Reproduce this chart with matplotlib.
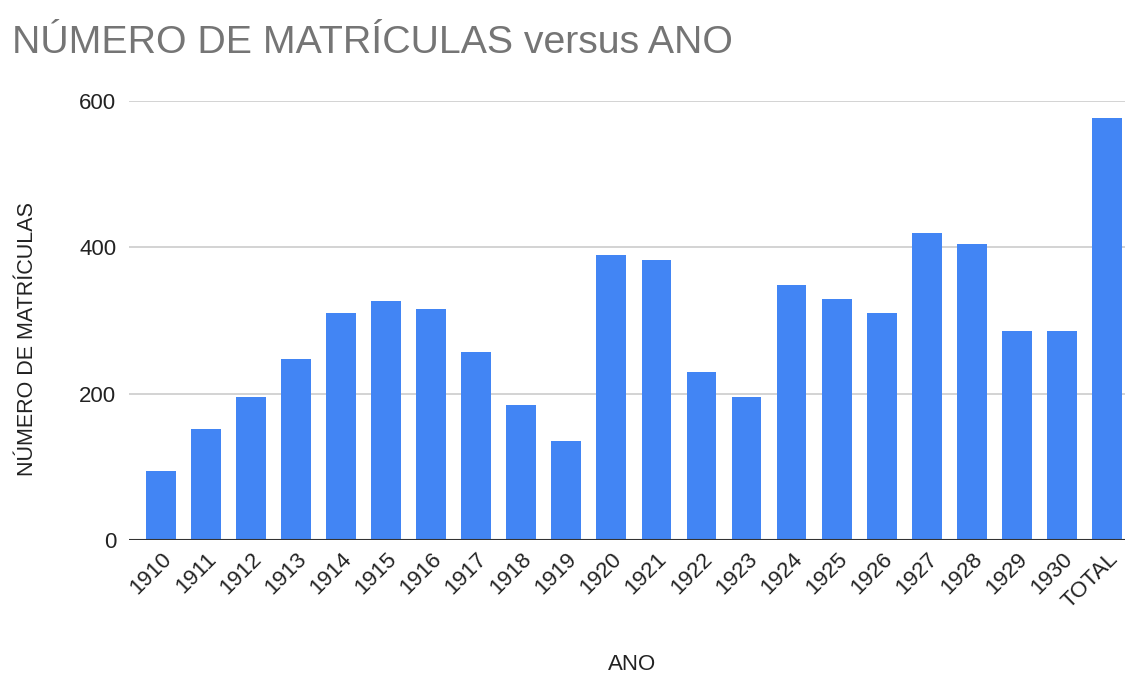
import numpy as np
import matplotlib.pyplot as plt

plt.rcParams['font.family'] = ['Liberation Sans', 'DejaVu Sans']

anos = ['1910', '1911', '1912', '1913', '1914', '1915', '1916', '1917', '1918', '1919',
        '1920', '1921', '1922', '1923', '1924', '1925', '1926', '1927', '1928', '1929',
        '1930', 'TOTAL']
matriculas = [94, 151, 195, 247, 310, 326, 315, 257, 184, 135,
              389, 383, 230, 195, 348, 329, 310, 419, 405, 285,
              285, 577]

fig = plt.figure(figsize=(11.29, 6.77), dpi=100)
ax = fig.add_axes([0.114, 0.2024, 0.8825, 0.6485])

x = np.arange(len(anos))
ax.bar(x, matriculas, width=0.66, color='#4285f4', zorder=3)

ax.set_xlim(-0.71, len(anos) - 0.6)
ax.set_ylim(0, 600)
ax.set_yticks([0, 200, 400, 600])
ax.yaxis.grid(True, color='#cccccc', linewidth=1.2, zorder=0)
ax.axhline(0, color='#333333', linewidth=1.5, zorder=4)

for s in ax.spines.values():
    s.set_visible(False)
ax.tick_params(axis='both', length=0, labelsize=16, colors='#222222')
ax.tick_params(axis='y', pad=9)
ax.tick_params(axis='x', pad=6)
ax.set_xticks(x)
ax.set_xticklabels(anos, rotation=45, ha='right', rotation_mode='anchor')

# axis titles placed like the original (Google Sheets style)
fig.text(0.56, 0.018, 'ANO', fontsize=16, color='#222222', ha='center', va='center')
fig.text(0.024, 0.499, 'NÚMERO DE MATRÍCULAS', fontsize=15.5, color='#222222',
         rotation=90, ha='center', va='center')

fig.text(0.0106, 0.937, 'NÚMERO DE MATRÍCULAS versus ANO', fontsize=28.3,
         color='#757575', va='center', ha='left')

fig.savefig('out.png', dpi=100)
